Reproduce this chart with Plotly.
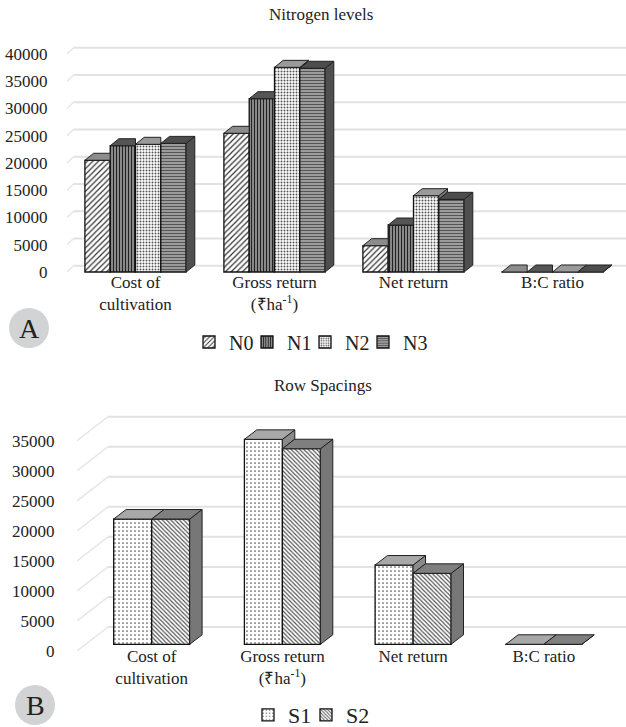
import plotly.graph_objects as go

W, H = 626, 727
FONT = "Liberation Serif"

categories = ["Cost of<br>cultivation", "Gross return<br>(₹ha<sup>-1</sup>)", "Net return", "B:C ratio"]
group_idx = [0, 1, 2, 3]

N0 = [20500, 25450, 4830, 2.0]
N1 = [23170, 31800, 8620, 2.4]
N2 = [23430, 37550, 14000, 2.5]
N3 = [23600, 37380, 13340, 2.5]

S1 = [20850, 34110, 13195, 2.4]
S2 = [20850, 32550, 11810, 2.3]

ticks_a = [0, 5000, 10000, 15000, 20000, 25000, 30000, 35000, 40000]
ticks_b = [0, 5000, 10000, 15000, 20000, 25000, 30000, 35000]

fig = go.Figure()


def panel(series, names, styles, xname, yname, legend, ticks, cx0, pitch, bar_px,
          px_per_unit, y_zero_px, y_bottom_px, y_top_px, x_left_px, base_px,
          depth_dx, depth_dy, grid_front, grid_dx, grid_dy, ticklen, standoff):
    xval = lambda p: (p - cx0) / pitch
    yval = lambda p: (y_zero_px - p) / px_per_unit
    axis_x = "xaxis" + xname[1:]
    axis_y = "yaxis" + yname[1:]
    bw = bar_px / pitch
    n = len(series)
    base = yval(base_px)
    dx = depth_dx / pitch
    dy = depth_dy / px_per_unit

    fig.update_layout({
        axis_x: dict(domain=[x_left_px / W, 1], range=[xval(x_left_px), xval(W)], anchor=yname,
                     tickmode="array", tickvals=group_idx, ticktext=categories,
                     showgrid=False, zeroline=False, showline=False, ticks="", ticklabelstandoff=standoff,
                     tickfont=dict(family=FONT, size=17, color="#222")),
        axis_y: dict(domain=[1 - y_bottom_px / H, 1 - y_top_px / H],
                     range=[yval(y_bottom_px), yval(y_top_px)], anchor=xname,
                     tickmode="array", tickvals=ticks, tickformat="d",
                     showgrid=False, zeroline=False, showline=False,
                     ticks="outside", ticklen=ticklen, tickcolor="rgba(0,0,0,0)",
                     tickfont=dict(family=FONT, size=17, color="#222")),
    })

    # gridlines on the back wall with the slanted floor/side return
    for t in ticks:
        x0, x1 = xval(x_left_px), xval(x_left_px + grid_dx)
        y0 = t + yval(grid_front) - yval(y_zero_px)
        y1 = y0 + grid_dy / px_per_unit
        fig.add_shape(type="line", xref=xname, yref=yname, x0=x0, x1=x1, y0=y0, y1=y1,
                      line=dict(color="#e6e6e6", width=1.5), layer="below")
        fig.add_shape(type="line", xref=xname, yref=yname, x0=x1, x1=xval(W), y0=y1, y1=y1,
                      line=dict(color="#e2e2e2", width=2), layer="below")

    for i, (vals, name, st) in enumerate(zip(series, names, styles)):
        off = -n * bw / 2 + i * bw
        fig.add_trace(go.Bar(
            x=group_idx, y=vals, base=[base] * 4, width=bw, offset=off, name=name,
            xaxis=xname, yaxis=yname, legend=legend,
            marker=dict(color="white", line=dict(color="#111", width=1.3),
                        pattern=dict(shape=st["shape"], size=st["size"], solidity=st["sol"],
                                     fgcolor=st["fg"], bgcolor=st["bg"], fillmode="replace")),
        ))

    # depth faces computed from the values
    for g in group_idx:
        for i, (vals, st) in enumerate(zip(series, styles)):
            xl = g - n * bw / 2 + i * bw
            xr = xl + bw
            h = vals[g] + base
            nxt = series[i + 1][g] + base if i + 1 < n else None
            low = base if nxt is None else nxt
            if low < h:
                fig.add_trace(go.Scatter(
                    x=[xr, xr + dx, xr + dx, xr, xr], y=[low, low + dy, h + dy, h, low],
                    xaxis=xname, yaxis=yname, mode="lines", fill="toself", fillcolor=st["side"],
                    line=dict(color="#222", width=1), showlegend=False, hoverinfo="skip"))
            end = xr if (nxt is not None and nxt > h) else xr + dx
            fig.add_trace(go.Scatter(
                x=[xl, xl + dx, end, xr, xl], y=[h, h + dy, h + dy, h, h],
                xaxis=xname, yaxis=yname, mode="lines", fill="toself", fillcolor=st["top"],
                line=dict(color="#222", width=1), showlegend=False, hoverinfo="skip"))


styles_a = [
    dict(shape="/", size=4, sol=0.3, fg="#333", bg="white", top="#8c8c8c", side="#666"),
    dict(shape="|", size=3, sol=0.6, fg="#222", bg="#ccc", top="#555", side="#555"),
    dict(shape=".", size=3, sol=0.35, fg="#555", bg="white", top="#9a9a9a", side="#777"),
    dict(shape="-", size=3, sol=0.65, fg="#555", bg="#ddd", top="#4d4d4d", side="#4f4f4f"),
]
styles_b = [
    dict(shape=".", size=4, sol=0.15, fg="#555", bg="white", top="#a8a8a8", side="#8a8a8a"),
    dict(shape="\\", size=3, sol=0.4, fg="#555", bg="white", top="#7f7f7f", side="#777"),
]

panel([N0, N1, N2, N3], ["N0", "N1", "N2", "N3"], styles_a, "x", "y", "legend", ticks_a,
      135.5, 139, 25.3, 218 / 40000, 272, 276, 40, 67, 272, 8.7, 7, 272, 6.5, 6.3, 15, -6)
panel([S1, S2], ["S1", "S2"], styles_b, "x2", "y2", "legend2", ticks_b,
      151.7, 130.7, 38, 210.3 / 35000, 651, 655, 405, 77, 644.3, 12.4, 9.5, 651, 31, 24, 18, -11)


def label(text, x, y, size):
    fig.add_annotation(text=text, xref="paper", yref="paper", x=x / W, y=1 - y / H, showarrow=False,
                       xanchor="center", yanchor="middle",
                       font=dict(family=FONT, size=size, color="#222"))


label("Nitrogen levels", 321, 15, 17)
label("Row Spacings", 323, 385, 17)
label("A", 29, 328, 28)
label("B", 35, 705, 28)
for cx, cy in [(29, 328), (35, 705)]:
    fig.add_shape(type="circle", xref="paper", yref="paper",
                  x0=(cx - 20) / W, x1=(cx + 20) / W, y0=1 - (cy + 20) / H, y1=1 - (cy - 20) / H,
                  fillcolor="#d1d3d4", line=dict(width=0), layer="below")

fig.update_layout(
    width=W, height=H, margin=dict(l=0, r=0, t=0, b=0, autoexpand=False), barmode="overlay",
    paper_bgcolor="white", plot_bgcolor="rgba(0,0,0,0)",
    font=dict(family=FONT, color="#222"),
    legend=dict(orientation="h", x=189 / W, y=1 - 342 / H, xanchor="left", yanchor="middle",
                font=dict(family=FONT, size=20, color="#222"), entrywidth=13, entrywidthmode="pixels",
                bgcolor="rgba(0,0,0,0)"),
    legend2=dict(orientation="h", x=248 / W, y=1 - 715 / H, xanchor="left", yanchor="middle",
                 font=dict(family=FONT, size=22, color="#222"), entrywidth=13, entrywidthmode="pixels",
                 bgcolor="rgba(0,0,0,0)"),
)

fig.write_html("out.html",
               post_script="document.body.style.margin='0';document.body.style.overflow='hidden';"
                           "document.querySelectorAll('.legend,.legend2,.legend .scrollbox,.legend2 .scrollbox')"
                           ".forEach(function(e){e.removeAttribute('clip-path');e.style.clipPath='none';});",
               config={"displayModeBar": False})
